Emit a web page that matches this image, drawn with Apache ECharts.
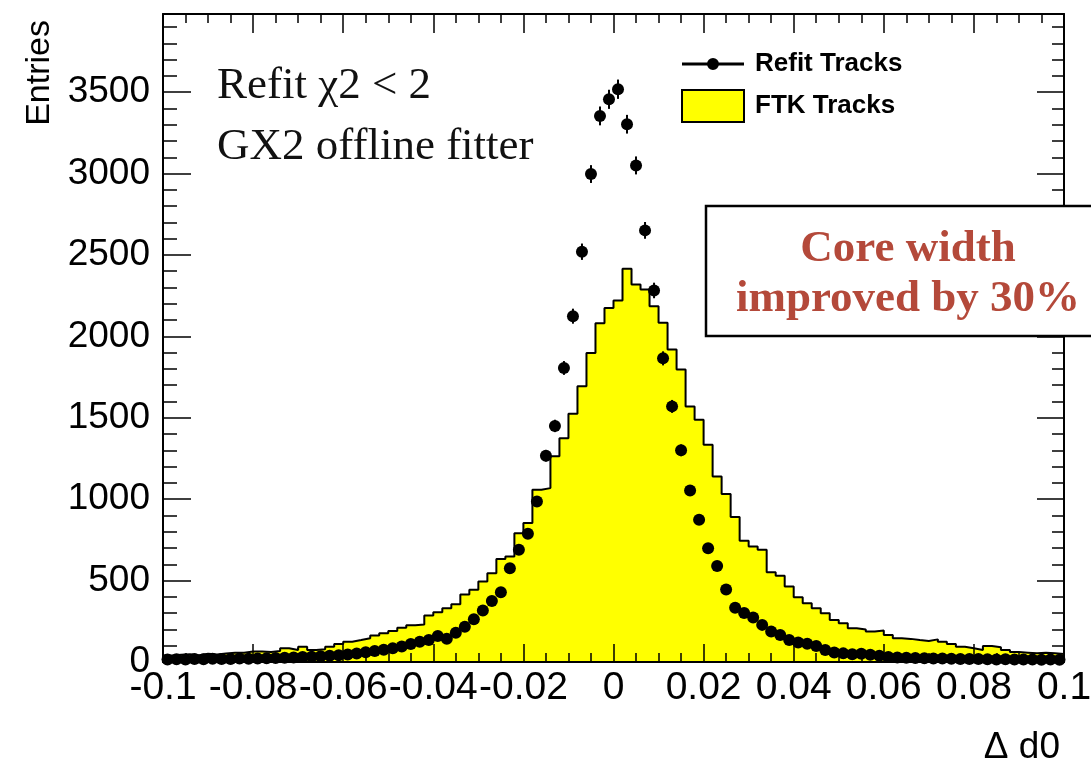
<!DOCTYPE html>
<html>
<head>
<meta charset="UTF-8">
<title>Delta d0 resolution</title>
<script type="text/javascript" src="https://cdn.jsdelivr.net/npm/echarts@6/dist/echarts.min.js"></script>
</head>
<body style="margin:0;background:#fff;overflow:hidden;">
<div id="container" style="width:1091px;height:771px;"></div>
<script type="text/javascript">
// histogram binning: 100 bins from -0.1 to 0.1
var binLow = -0.1;
var binWidth = 0.002;

// FTK Tracks (yellow histogram), one value per bin
var ftkCounts = [
  40, 45, 48, 42, 50, 46, 52, 57, 57, 64,
  64, 61, 68, 84, 74, 94, 74, 78, 94, 111,
  125, 135, 146, 162, 176, 190, 210, 225, 230, 285,
  305, 330, 355, 415, 443, 494, 545, 632, 648, 791,
  853, 1058, 1068, 1263, 1375, 1525, 1693, 1898, 2080, 2175,
  2220, 2415, 2318, 2288, 2185, 2083, 1919, 1796, 1570, 1488,
  1335, 1140, 1032, 890, 745, 709, 689, 552, 530, 463,
  398, 361, 330, 299, 258, 238, 207, 200, 187, 193,
  166, 146, 142, 135, 129, 139, 125, 111, 94, 84,
  74, 98, 90, 74, 61, 57, 53, 57, 53, 49
];

// Refit Tracks (black points), one value per bin
var refitCounts = [
  15, 17, 16, 18, 17, 20, 18, 19, 21, 20,
  22, 23, 25, 26, 28, 30, 33, 35, 38, 42,
  46, 52, 60, 68, 75, 85, 95, 110, 125, 135,
  160, 143, 180, 217, 263, 316, 374, 429, 576, 689,
  788, 986, 1267, 1450, 1806, 2124, 2520, 2997, 3354, 3456,
  3518, 3303, 3050, 2651, 2282, 1865, 1570, 1300, 1054, 873,
  699, 590, 445, 333, 301, 274, 228, 187, 166, 135,
  120, 112, 98, 74, 58, 53, 48, 50, 44, 38,
  31, 28, 26, 25, 23, 22, 21, 20, 19, 18,
  18, 17, 16, 17, 15, 16, 15, 14, 15, 14
];

var seriesNames = ['Refit Tracks', 'FTK Tracks'];
var noteLines = ['Refit \u03c72 < 2', 'GX2 offline fitter'];
var boxLines = ['Core width', 'improved by 30%'];

// step outline for the histogram: left edge of every bin, plus the last right edge
var ftkSteps = ftkCounts.map(function (v, i) {
  return [binLow + i * binWidth, v];
});
ftkSteps.push([binLow + ftkCounts.length * binWidth, ftkCounts[ftkCounts.length - 1]]);

// points at bin centres
var refitPoints = refitCounts.map(function (v, i) {
  return [binLow + (i + 0.5) * binWidth, v];
});

var dom = document.getElementById('container');
var myChart = echarts.init(dom, null, { renderer: 'canvas' });

var sans = 'Liberation Sans, Arial, Helvetica, sans-serif';
var serif = 'Liberation Serif, Times New Roman, serif';

function xAxisDef(pos, showLabel, major, minor) {
  return {
    type: 'value',
    position: pos,
    min: -0.1,
    max: 0.1,
    interval: 0.02,
    z: 4,
    axisLine: { show: true, onZero: false, lineStyle: { color: '#000', width: 2 } },
    axisTick: { show: true, inside: true, length: major, lineStyle: { color: '#000', width: 1.5 } },
    minorTick: { show: true, splitNumber: 4, length: minor, lineStyle: { color: '#000', width: 1.5 } },
    splitLine: { show: false },
    axisLabel: {
      show: showLabel,
      margin: 7,
      color: '#000',
      fontSize: 39,
      fontFamily: sans,
      formatter: function (v) { return String(+v.toFixed(3)); }
    }
  };
}

function yAxisDef(pos, showLabel, major, minor) {
  return {
    type: 'value',
    position: pos,
    min: 0,
    max: 3980,
    interval: 500,
    z: 4,
    axisLine: { show: true, onZero: false, lineStyle: { color: '#000', width: 2 } },
    axisTick: { show: true, inside: true, length: major, lineStyle: { color: '#000', width: 1.5 } },
    minorTick: { show: true, splitNumber: 5, length: minor, lineStyle: { color: '#000', width: 1.5 } },
    splitLine: { show: false },
    axisLabel: {
      show: showLabel,
      showMaxLabel: false,
      margin: 13,
      color: '#000',
      fontSize: 37,
      fontFamily: sans,
      formatter: function (v) { return String(Math.round(v)); }
    }
  };
}

var option = {
  backgroundColor: '#fff',
  animation: false,
  grid: {
    left: 163,
    right: 27,
    top: 14,
    bottom: 109,
    containLabel: false,
    outerBoundsMode: 'none'
  },
  xAxis: [
    xAxisDef('bottom', true, 18, 9),
    xAxisDef('top', false, 19, 9)
  ],
  yAxis: [
    yAxisDef('left', true, 28, 14),
    yAxisDef('right', false, 27, 12)
  ],
  legend: {
    orient: 'vertical',
    left: 676,
    top: 46,
    itemWidth: 62,
    itemHeight: 32,
    itemGap: 12,
    selectedMode: false,
    textStyle: {
      color: '#000',
      fontSize: 26,
      fontWeight: 'bold',
      fontFamily: sans,
      padding: [0, 0, 0, 6]
    },
    data: [
      {
        name: seriesNames[0],
        icon: 'path://M0,14 L62,14 L62,17 L0,17 Z M31,9.5 A6,6 0 1,1 30.99,9.5 Z',
        itemStyle: { color: '#000', borderWidth: 0 }
      },
      {
        name: seriesNames[1],
        icon: 'rect',
        itemStyle: { color: '#ffff00', borderColor: '#000', borderWidth: 2 }
      }
    ]
  },
  series: [
    {
      name: seriesNames[1],
      type: 'line',
      step: 'end',
      data: ftkSteps,
      showSymbol: false,
      symbol: 'none',
      z: 2,
      itemStyle: { color: '#ffff00' },
      lineStyle: { color: '#000', width: 2 },
      areaStyle: { color: '#ffff00', opacity: 1 }
    },
    {
      name: 'errors',
      type: 'custom',
      z: 5,
      data: refitPoints,
      renderItem: function (params, api) {
        var x = api.value(0);
        var v = api.value(1);
        var e = Math.sqrt(v);
        var p1 = api.coord([x, v - e]);
        var p2 = api.coord([x, v + e]);
        return {
          type: 'line',
          shape: { x1: p1[0], y1: p1[1], x2: p2[0], y2: p2[1] },
          style: { stroke: '#000', lineWidth: 2 }
        };
      }
    },
    {
      name: seriesNames[0],
      type: 'scatter',
      data: refitPoints,
      symbol: 'circle',
      symbolSize: 12,
      z: 6,
      itemStyle: { color: '#000', opacity: 1 }
    }
  ],
  graphic: [
    {
      type: 'text',
      left: 217,
      top: 64,
      z: 100,
      style: { text: noteLines[0], font: '45px ' + serif, fill: '#111' }
    },
    {
      type: 'text',
      left: 217,
      top: 125,
      z: 100,
      style: { text: noteLines[1], font: '45px ' + serif, fill: '#111' }
    },
    {
      type: 'rect',
      z: 100,
      shape: { x: 706, y: 206, width: 420, height: 130 },
      style: { fill: '#fff', stroke: '#000', lineWidth: 2.5 }
    },
    {
      type: 'text',
      z: 101,
      x: 908,
      y: 249,
      style: {
        text: boxLines[0],
        font: 'bold 45px ' + serif,
        fill: '#b4493a',
        align: 'center',
        verticalAlign: 'middle'
      }
    },
    {
      type: 'text',
      z: 101,
      x: 908,
      y: 299,
      style: {
        text: boxLines[1],
        font: 'bold 45px ' + serif,
        fill: '#b4493a',
        align: 'center',
        verticalAlign: 'middle'
      }
    },
    {
      type: 'text',
      z: 100,
      x: 40,
      y: 20,
      rotation: Math.PI / 2,
      style: {
        text: 'Entries',
        font: '34px ' + sans,
        fill: '#000',
        align: 'right',
        verticalAlign: 'middle'
      }
    },
    {
      type: 'text',
      z: 100,
      x: 1060,
      y: 748,
      style: {
        text: '\u0394 d0',
        font: '37px ' + sans,
        fill: '#000',
        align: 'right',
        verticalAlign: 'middle'
      }
    }
  ]
};

if (option && typeof option === 'object') {
  myChart.setOption(option);
}
</script>
</body>
</html>
